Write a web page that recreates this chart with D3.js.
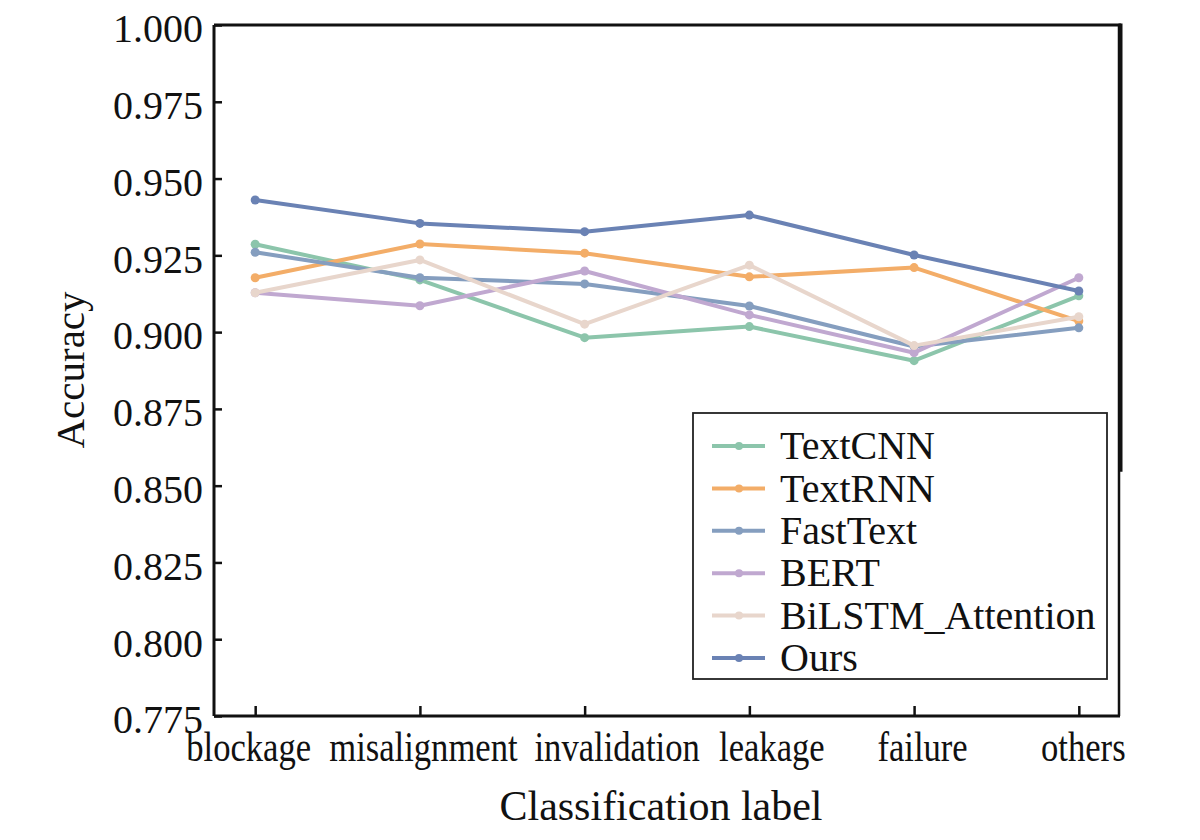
<!DOCTYPE html>
<html>
<head>
<meta charset="utf-8">
<script src="https://cdn.jsdelivr.net/npm/d3@7"></script>
<style>
  body { margin: 0; background: #fff; }
  text { font-family: "Liberation Serif", "Times New Roman", serif; fill: #111; }
</style>
</head>
<body>
<div id="chart"></div>
<script>
var svgWidth = 1200;
var svgHeight = 840;

var margin = { top: 25, right: 80, bottom: 124, left: 214 };
var width = svgWidth - margin.left - margin.right;
var height = svgHeight - margin.top - margin.bottom;

// data
var categories = ["blockage", "misalignment", "invalidation", "leakage", "failure", "others"];
var seriesNames = ["TextCNN", "TextRNN", "FastText", "BERT", "BiLSTM_Attention", "Ours"];
var textCNN  = [0.9286, 0.9170, 0.8982, 0.9018, 0.8907, 0.9118];
var textRNN  = [0.9177, 0.9287, 0.9257, 0.9180, 0.9210, 0.9036];
var fastText = [0.9260, 0.9177, 0.9157, 0.9085, 0.8953, 0.9014];
var bert     = [0.9128, 0.9086, 0.9199, 0.9056, 0.8933, 0.9177];
var bilstm   = [0.9128, 0.9235, 0.9026, 0.9218, 0.8956, 0.9050];
var ours     = [0.9430, 0.9354, 0.9327, 0.9381, 0.9251, 0.9134];
var yTicks = [0.775, 0.800, 0.825, 0.850, 0.875, 0.900, 0.925, 0.950, 0.975, 1.000];

var colors = ["#8cc5ab", "#f3ad68", "#859ebf", "#c0a8d0", "#e8d6cc", "#6a82b4"];
var allSeries = [textCNN, textRNN, fastText, bert, bilstm, ours];

// the category labels in the figure sit a little off their ticks
var labelNudge = [-7, 3, 32, 22, 8, 4];

var svg = d3.select("#chart")
  .append("svg")
  .attr("width", svgWidth)
  .attr("height", svgHeight);

var chartGroup = svg.append("g")
  .attr("transform", `translate(${margin.left}, ${margin.top})`);

var xScale = d3.scalePoint()
  .domain(categories)
  .range([0, width])
  .padding(0.25);

var yScale = d3.scaleLinear()
  .domain([0.775, 1.0])
  .range([height, 0]);

// axes, ticks pointing inward
var bottomAxis = d3.axisBottom(xScale).tickSize(-10).tickPadding(15);
var leftAxis = d3.axisLeft(yScale)
  .tickValues(yTicks)
  .tickFormat(d3.format(".3f"))
  .tickSize(-8)
  .tickPadding(11);

var xAxis = chartGroup.append("g")
  .attr("transform", `translate(0, ${height})`)
  .call(bottomAxis);
xAxis.select(".domain").remove();
xAxis.selectAll("line").attr("stroke", "#111").attr("stroke-width", 2.5);
xAxis.selectAll("text")
  .attr("font-size", 42)
  .attr("fill", "#111")
  .attr("transform", (d, i) => `translate(${labelNudge[i]},0) scale(0.824,1)`);

var yAxis = chartGroup.append("g").call(leftAxis);
yAxis.select(".domain").remove();
yAxis.selectAll("line").attr("stroke", "#111").attr("stroke-width", 2.5);
yAxis.selectAll("text")
  .attr("font-size", 40)
  .attr("fill", "#111")
  .attr("dy", "0.42em");

// frame
var frame = chartGroup.append("g").attr("stroke", "#111").attr("fill", "none");
frame.append("line").attr("x1", 0).attr("x2", 0).attr("y1", 0).attr("y2", height).attr("stroke-width", 3);
frame.append("line").attr("x1", 0).attr("x2", width).attr("y1", height).attr("y2", height).attr("stroke-width", 3);
frame.append("line").attr("x1", 0).attr("x2", width + 1).attr("y1", 0).attr("y2", 0).attr("stroke-width", 3);
frame.append("line").attr("x1", width - 1).attr("x2", width - 1).attr("y1", 0).attr("y2", height).attr("stroke-width", 2.5);
frame.append("line").attr("x1", width + 0.5).attr("x2", width + 0.5).attr("y1", -1.5).attr("y2", yScale(0.8545)).attr("stroke-width", 4);

// lines and markers
var line = d3.line()
  .x((d, i) => xScale(categories[i]))
  .y(d => yScale(d));

allSeries.forEach(function(values, k) {
  chartGroup.append("path")
    .datum(values)
    .attr("d", line)
    .attr("fill", "none")
    .attr("stroke", colors[k])
    .attr("stroke-width", 4)
    .attr("stroke-linejoin", "round");

  chartGroup.selectAll(".pt" + k)
    .data(values)
    .enter()
    .append("circle")
    .attr("class", "pt" + k)
    .attr("cx", (d, i) => xScale(categories[i]))
    .attr("cy", d => yScale(d))
    .attr("r", 4.5)
    .attr("fill", colors[k]);
});

// legend
var legend = svg.append("g").attr("transform", "translate(693, 413)");
legend.append("rect")
  .attr("width", 414)
  .attr("height", 266)
  .attr("fill", "#fff")
  .attr("stroke", "#222")
  .attr("stroke-width", 1.8);

seriesNames.forEach(function(name, k) {
  var row = legend.append("g").attr("transform", `translate(0, ${33 + k * 42.4})`);
  row.append("line")
    .attr("x1", 19).attr("x2", 72)
    .attr("stroke", colors[k])
    .attr("stroke-width", 4);
  row.append("circle")
    .attr("cx", 46).attr("r", 4)
    .attr("fill", colors[k]);
  row.append("text")
    .attr("x", 87)
    .attr("dy", "0.33em")
    .attr("font-size", 40)
    .text(name);
});

// axis titles
svg.append("text")
  .attr("x", 661)
  .attr("y", 820)
  .attr("text-anchor", "middle")
  .attr("font-size", 42)
  .text("Classification label");

svg.append("text")
  .attr("transform", "rotate(-90)")
  .attr("x", -370)
  .attr("y", 84)
  .attr("text-anchor", "middle")
  .attr("font-size", 41)
  .text("Accuracy");
</script>
</body>
</html>
